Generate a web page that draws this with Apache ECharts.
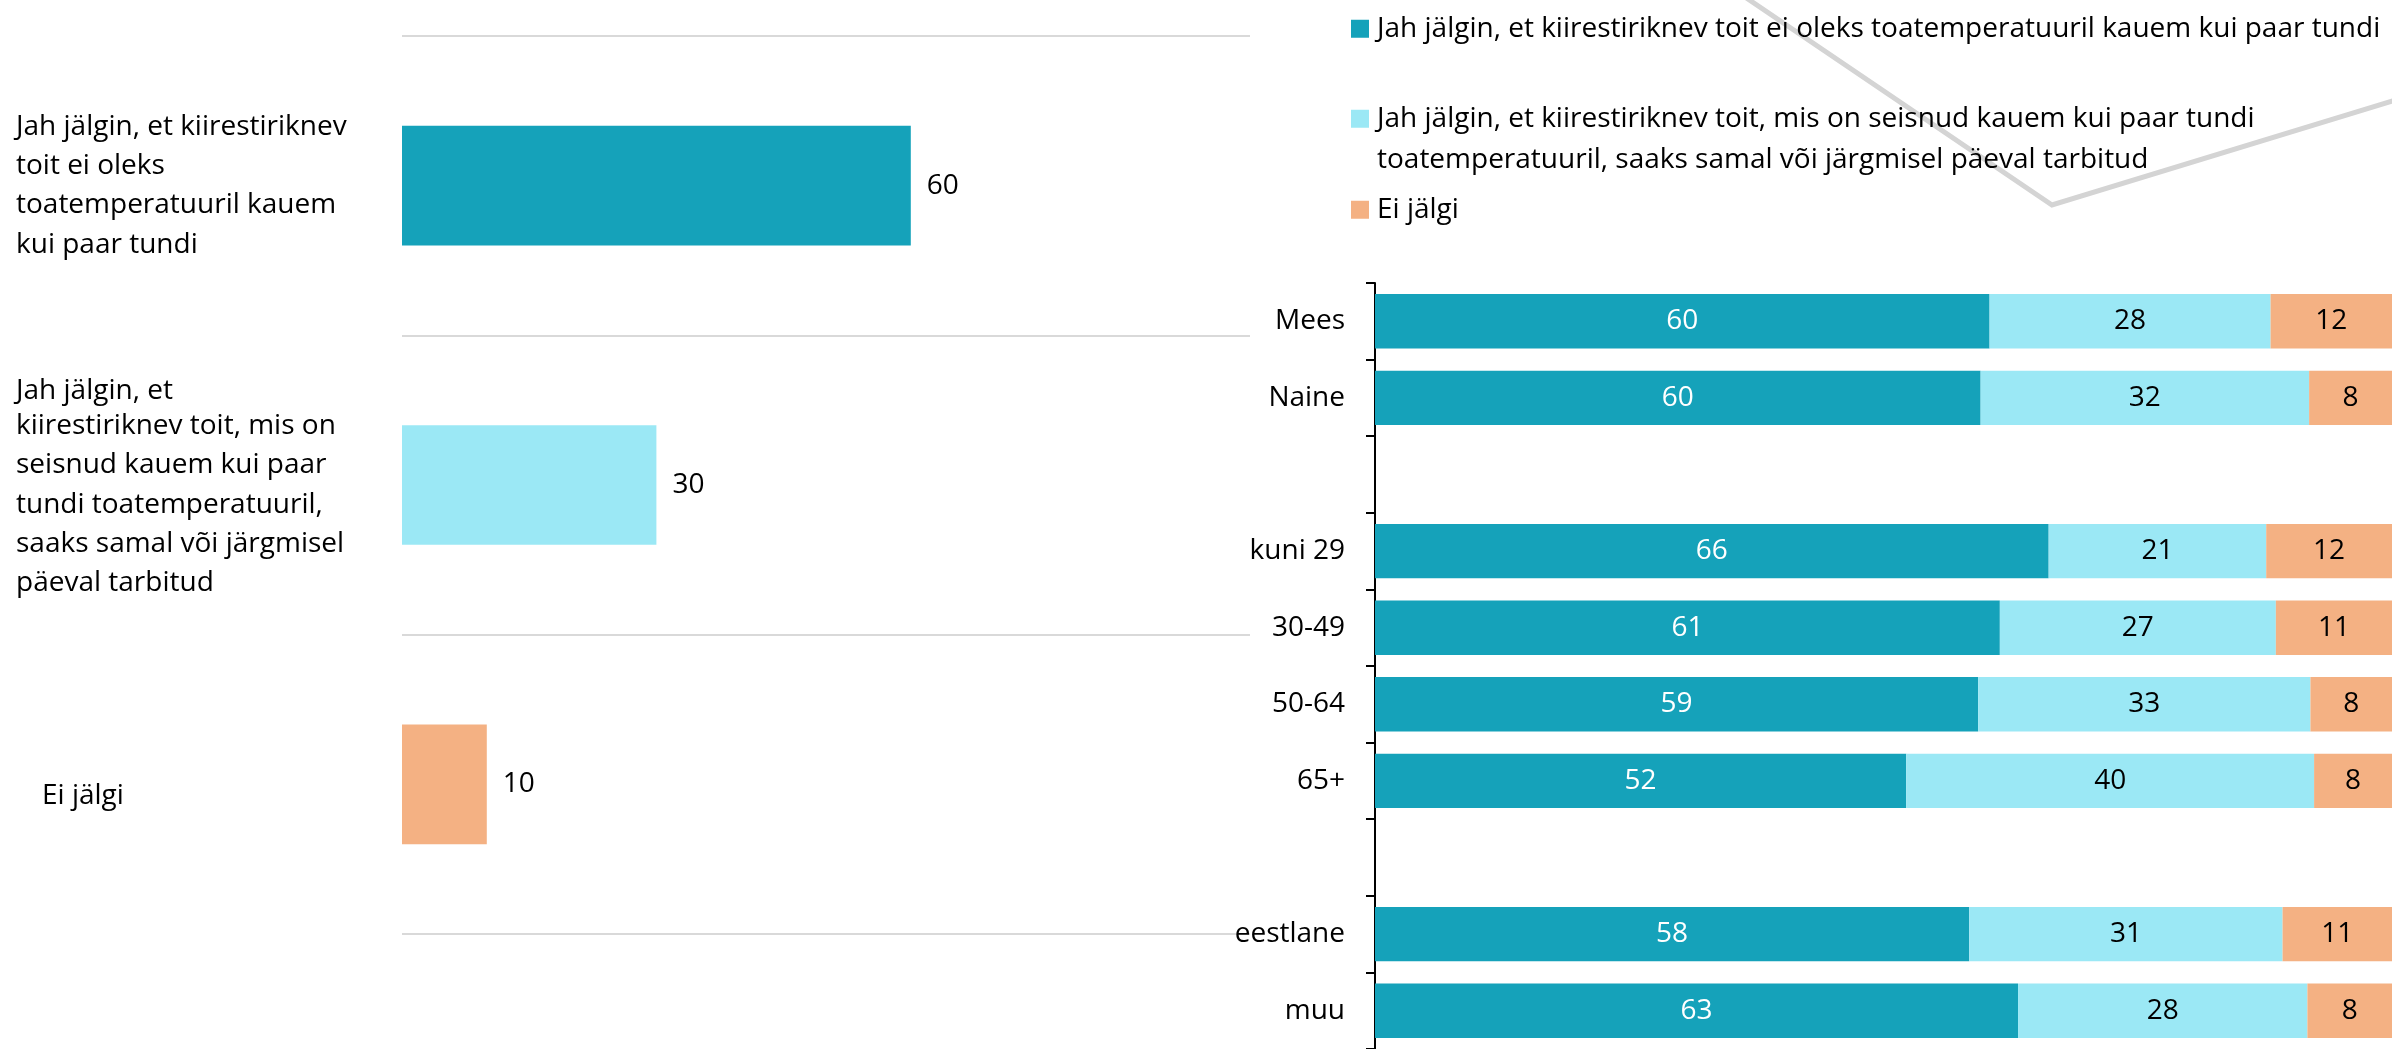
<!DOCTYPE html>
<html>
<head>
<meta charset="utf-8">
<script src="https://cdn.jsdelivr.net/npm/echarts@6/dist/echarts.min.js"></script>
<style>
  html, body { margin: 0; padding: 0; background: #fff; }
  #chart { width: 2392px; height: 1049px; }
</style>
</head>
<body>
<div id="chart"></div>
<script>
// vastusevariandid (legend + vasak joonis)
const answers = [
  'Jah jälgin, et kiirestiriknev toit ei oleks toatemperatuuril kauem kui paar tundi',
  'Jah jälgin, et kiirestiriknev toit, mis on seisnud kauem kui paar tundi toatemperatuuril, saaks samal või järgmisel päeval tarbitud',
  'Ei jälgi'
];
// vasaku joonise sildid nagu pildil murtud
const totalTickLabels = [
  'Jah jälgin, et kiirestiriknev\ntoit ei oleks\ntoatemperatuuril kauem\nkui paar tundi',
  'Jah jälgin, et\nkiirestiriknev toit, mis on\nseisnud kauem kui paar\ntundi toatemperatuuril,\nsaaks samal või järgmisel\npäeval tarbitud',
  'Ei jälgi'
];
const totalValues = [60, 30, 10];

// parem joonis: rühmad (tühjad read on vahed)
const groups = ['Mees', 'Naine', '', 'kuni 29', '30-49', '50-64', '65+', ' ', 'eestlane', 'muu'];
const followShort = [60.43, 59.55, null, 66.24, 61.44, 59.31, 52.23, null, 58.43, 63.23];
const followLong = [27.63, 32.30, null, 21.39, 27.14, 32.67, 40.11, null, 30.81, 28.45];
const notFollow = [11.94, 8.15, null, 12.37, 11.42, 8.02, 7.66, null, 10.76, 8.32];

const colors = ['#15a2ba', '#9be8f5', '#f4b183'];
const font = 'Open Sans';
const fs = 28;

const chart = echarts.init(document.getElementById('chart'));

const legendBase = {
  orient: 'vertical',
  left: 1351,
  padding: 0,
  icon: 'rect',
  itemWidth: 18,
  itemHeight: 18,
  selectedMode: false,
  textStyle: { fontFamily: font, fontSize: fs, color: '#000', lineHeight: 41.5, padding: [0, 0, 0, 3] }
};

const stackSeries = [followShort, followLong, notFollow].map((vals, i) => ({
  name: answers[i],
  type: 'bar',
  stack: 'total',
  xAxisIndex: 1,
  yAxisIndex: 1,
  barWidth: '71%',
  data: vals,
  itemStyle: { color: colors[i] },
  label: {
    show: true,
    position: 'inside',
    fontFamily: font,
    fontSize: fs,
    color: i === 0 ? '#fff' : '#000',
    formatter: p => Math.round(p.value)
  }
}));

chart.setOption({
  animation: false,
  backgroundColor: '#fff',
  graphic: [{
    type: 'polyline',
    z: 0,
    shape: { points: [[1745, -3], [2052, 205], [2396, 100]] },
    style: { stroke: '#d4d4d4', lineWidth: 5, fill: null }
  }],
  legend: [
    Object.assign({}, legendBase, { top: 8, data: [answers[0]] }),
    Object.assign({}, legendBase, {
      top: 56.5,
      data: [answers[1]],
      // tühi esimene rida, et ikoon jääks esimese tekstirea kõrgusele
      formatter: () => ' \nJah jälgin, et kiirestiriknev toit, mis on seisnud kauem kui paar tundi\ntoatemperatuuril, saaks samal või järgmisel päeval tarbitud'
    }),
    Object.assign({}, legendBase, { top: 189, data: [answers[2]] })
  ],
  grid: [
    { left: 402, top: 36, width: 848, height: 898 },
    { left: 1375, top: 283, width: 1020, height: 771 }
  ],
  xAxis: [
    { gridIndex: 0, type: 'value', min: 0, max: 100, show: false },
    { gridIndex: 1, type: 'value', min: 0, max: 100, show: false }
  ],
  yAxis: [
    {
      gridIndex: 0,
      type: 'category',
      inverse: true,
      data: answers,
      axisLine: { show: false },
      axisTick: { show: false },
      splitLine: { show: true, lineStyle: { color: '#d9d9d9', width: 2 } },
      axisLabel: {
        interval: 0,
        align: 'left',
        margin: 386,
        fontFamily: font,
        fontSize: fs,
        lineHeight: 39.3,
        color: '#000',
        formatter: (v, i) => {
          if (i === 2) return '{ind|' + totalTickLabels[i] + '}';
          if (i === 1) {
            const lines = totalTickLabels[i].split('\n');
            return '{down|' + lines[0] + '}\n' + lines.slice(1).join('\n');
          }
          return totalTickLabels[i];
        },
        rich: {
          ind: { fontFamily: font, fontSize: fs, color: '#000', padding: [24, 0, 0, 26] },
          down: { fontFamily: font, fontSize: fs, color: '#000', lineHeight: 39.3, padding: [9, 0, 0, 0] }
        }
      }
    },
    {
      gridIndex: 1,
      type: 'category',
      inverse: true,
      data: groups,
      axisLine: { show: true, lineStyle: { color: '#000', width: 2 } },
      axisTick: { show: true, interval: 0, length: 9, lineStyle: { color: '#000', width: 2 } },
      splitLine: { show: false },
      axisLabel: { interval: 0, margin: 30, fontFamily: font, fontSize: fs, color: '#000' }
    }
  ],
  series: [
    {
      name: 'kokku',
      type: 'bar',
      xAxisIndex: 0,
      yAxisIndex: 0,
      barWidth: '40%',
      data: totalValues.map((v, i) => ({ value: v, itemStyle: { color: colors[i] } })),
      label: { show: true, position: 'right', distance: 16, fontFamily: font, fontSize: fs, color: '#000' }
    }
  ].concat(stackSeries)
});
</script>
</body>
</html>
